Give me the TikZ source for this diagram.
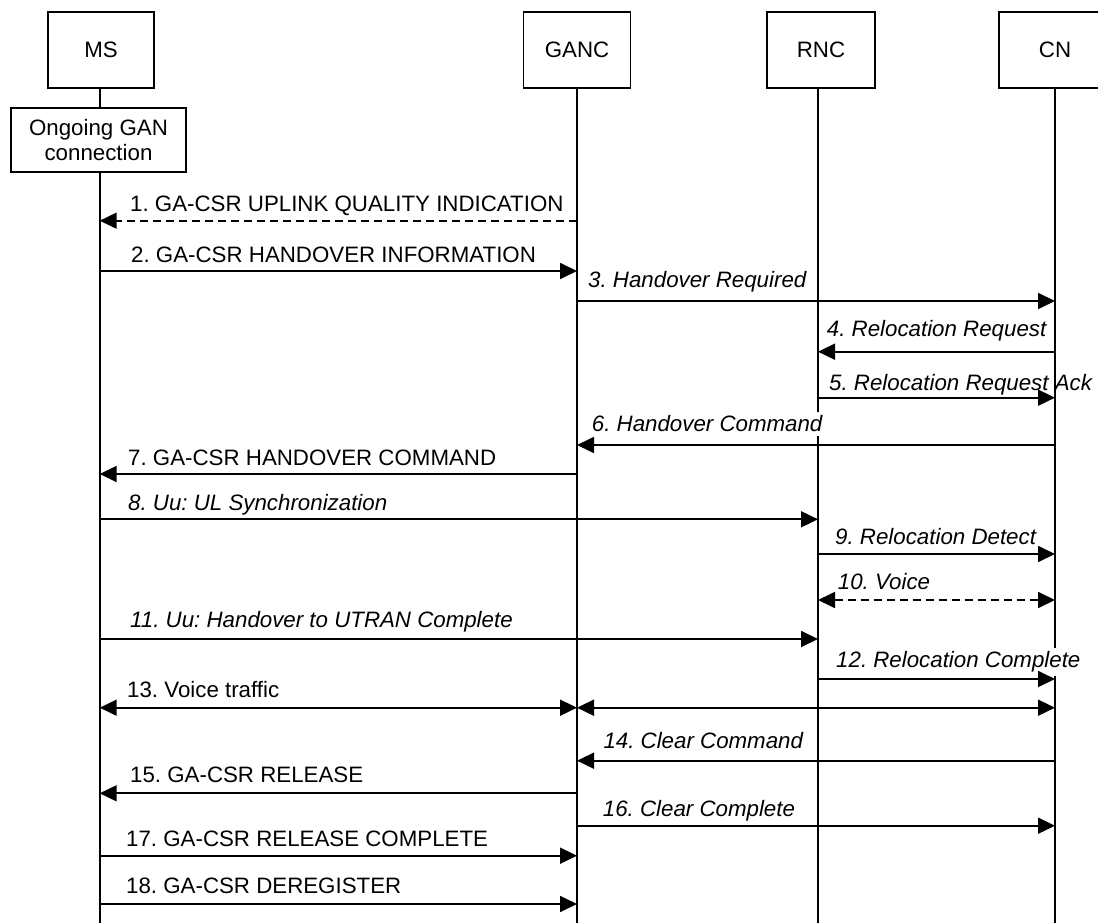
\documentclass[tikz,border=0pt]{standalone}
\usepackage{fontspec}
\setmainfont{Liberation Sans}
\usetikzlibrary{arrows.meta}
\frenchspacing
\begin{document}
\begin{tikzpicture}[x=1pt,y=-1pt,
  every node/.style={font=\fontsize{22.3}{24.4}\selectfont},
  ent/.style={draw,line width=1.5pt,inner sep=0pt,align=center},
  life/.style={line width=1.8pt},
  msg/.style={line width=1.8pt,-{Triangle[length=17pt,width=16pt]}},
  dmsg/.style={msg,dash pattern=on 8pt off 5pt},
  bmsg/.style={line width=1.8pt,{Triangle[length=17pt,width=16pt]}-{Triangle[length=17pt,width=16pt]}},
  dbmsg/.style={bmsg,dash pattern=on 8pt off 5pt},
  lbl/.style={anchor=base west,inner xsep=0pt,inner ysep=4pt},
  ilbl/.style={lbl,font=\fontsize{22.3}{24.4}\selectfont\itshape},
  wbg/.style={fill=white}]
\useasboundingbox (0,0) rectangle (1098,923);
\clip (0,0) rectangle (1098,923);

% entity boxes
\node[ent,minimum width=106pt,minimum height=76pt] (ms) at (101,50) {MS};
\node[ent,minimum width=107pt,minimum height=76pt] (ganc) at (577,50) {GANC};
\node[ent,minimum width=108pt,minimum height=76pt] (rnc) at (821,50) {RNC};
\node[ent,minimum width=112pt,minimum height=76pt] (cn) at (1055,50) {CN};
\node[ent,minimum width=175pt,minimum height=64pt] (ongo) at (98.5,140) {Ongoing GAN\\connection};

% lifeline coordinates
\coordinate (msT) at (99.7,88);
\coordinate (msB) at (99.7,923);
\coordinate (gT) at (577,88);
\coordinate (gB) at (577,923);
\coordinate (rT) at (818,88);
\coordinate (rB) at (818,923);
\coordinate (cT) at (1055,88);
\coordinate (cB) at (1055,923);

\draw[life] (msT) -- (msT |- ongo.north);
\draw[life] (msT |- ongo.south) -- (msB);
\draw[life] (gT) -- (gB);
\draw[life] (rT) -- (rB);
\draw[life] (cT) -- (cB);

% messages
\draw[dmsg] (gT |- 0,220.7) -- (msT |- 0,220.7);
\node[lbl] (l1) at (130,211.7) {1. GA-CSR UPLINK QUALITY INDICATION};

\draw[msg] (msT |- 0,271) -- (gT |- 0,271);
\node[lbl] (l2) at (131,262.7) {2. GA-CSR HANDOVER INFORMATION};

\draw[msg] (gT |- 0,301) -- (cT |- 0,301);
\node[ilbl] (l3) at (588,287.7) {3. Handover Required};

\draw[msg] (cT |- 0,351.7) -- (rT |- 0,351.7);
\node[ilbl] (l4) at (826.7,336.7) {4. Relocation Request};

\draw[msg] (rT |- 0,397.7) -- (cT |- 0,397.7);
\node[ilbl] (l5) at (829,390) {5. Relocation Request Ack};

\node[ilbl,wbg] (l6) at (591.7,431.7) {6. Handover Command};
\draw[msg] (cT |- 0,445) -- (gT |- 0,445);

\draw[msg] (gT |- 0,474) -- (msT |- 0,474);
\node[lbl] (l7) at (128,465) {7. GA-CSR HANDOVER COMMAND};

\draw[msg] (msT |- 0,519.3) -- (rT |- 0,519.3);
\node[ilbl] (l8) at (128,510.7) {8. Uu: UL Synchronization};

\draw[msg] (rT |- 0,554) -- (cT |- 0,554);
\node[ilbl] (l9) at (835,544) {9. Relocation Detect};

\draw[dbmsg] (rT |- 0,600) -- (cT |- 0,600);
\node[ilbl] (l10) at (837.7,589) {10. Voice};

\draw[msg] (msT |- 0,639) -- (rT |- 0,639);
\node[ilbl] (l11) at (130,627) {11. Uu: Handover to UTRAN Complete};

\node[ilbl,wbg] (l12) at (836,667.7) {12. Relocation Complete};
\draw[msg] (rT |- 0,679) -- (cT |- 0,679);

\draw[bmsg] (msT |- 0,707.7) -- (gT |- 0,707.7);
\draw[bmsg] (gT |- 0,707.7) -- (cT |- 0,707.7);
\node[lbl] (l13) at (127,697) {13. Voice traffic};

\draw[msg] (cT |- 0,760.7) -- (gT |- 0,760.7);
\node[ilbl] (l14) at (603.3,748) {14. Clear Command};

\draw[msg] (gT |- 0,793.3) -- (msT |- 0,793.3);
\node[lbl] (l15) at (130,782.7) {15. GA-CSR RELEASE};

\draw[msg] (gT |- 0,825.7) -- (cT |- 0,825.7);
\node[ilbl] (l16) at (602.7,816) {16. Clear Complete};

\draw[msg] (msT |- 0,855.7) -- (gT |- 0,855.7);
\node[lbl] (l17) at (126,846) {17. GA-CSR RELEASE COMPLETE};

\draw[msg] (msT |- 0,904) -- (gT |- 0,904);
\node[lbl] (l18) at (126,893.3) {18. GA-CSR DEREGISTER};
\end{tikzpicture}
\end{document}
